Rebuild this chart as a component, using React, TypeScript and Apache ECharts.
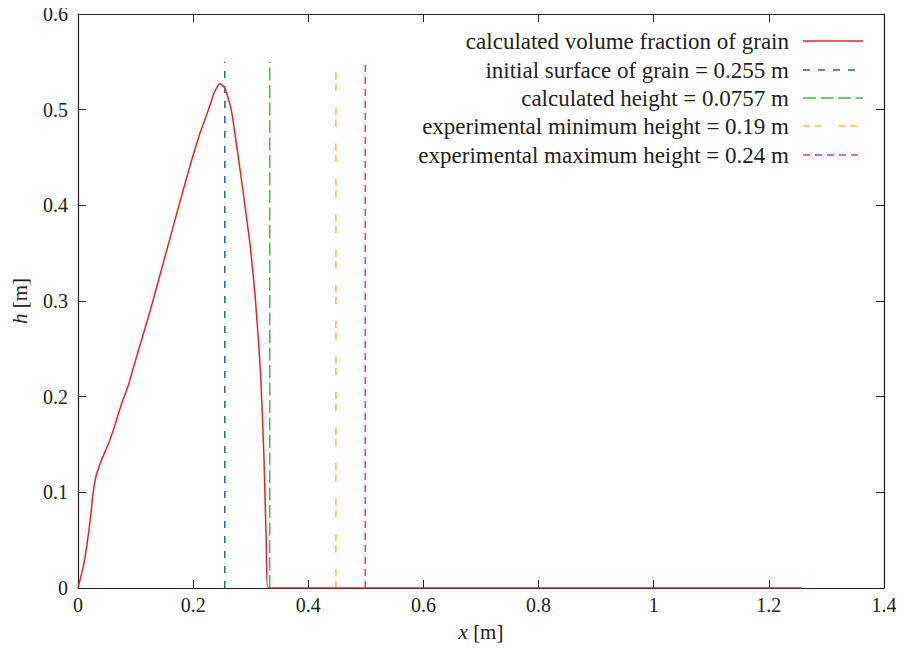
import React, { useEffect, useRef } from "react";
import * as echarts from "echarts";

// Computed volume fraction profile of grain, h [m] against x [m]
const curveX = [
  0, 0.009, 0.016, 0.022, 0.0255, 0.031, 0.041, 0.053, 0.064, 0.076, 0.087,
  0.095, 0.125, 0.155, 0.1876, 0.21, 0.226, 0.236, 0.241, 0.246, 0.25, 0.256,
  0.262, 0.268, 0.284, 0.299, 0.308, 0.317, 0.323, 0.327, 0.33, 1.257,
];
const curveH = [
  0, 0.022, 0.047, 0.075, 0.096, 0.116, 0.134, 0.151, 0.17, 0.193, 0.211,
  0.228, 0.289, 0.355, 0.4265, 0.472, 0.499, 0.517, 0.523, 0.527, 0.526, 0.521,
  0.51, 0.494, 0.4265, 0.3585, 0.303, 0.226, 0.137, 0.047, 0, 0,
];

// Reference heights drawn as vertical markers: [x position, top]
const surfaceLine = [0.255, 0.55];
const calcHeightLine = [0.333, 0.55];
const expMinLine = [0.448, 0.54];
const expMaxLine = [0.499, 0.547];

const legendLabels = [
  "calculated volume fraction of grain",
  "initial surface of grain = 0.255 m",
  "calculated height = 0.0757 m",
  "experimental minimum height = 0.19 m",
  "experimental maximum height = 0.24 m",
];

const xTicks = { min: 0, max: 1.4, interval: 0.2 };
const yTicks = { min: 0, max: 0.6, interval: 0.1 };

const FONT = "'Liberation Serif', serif";
const INK = "#222";
const colors = ["#ec1f26", "#22649f", "#3dba55", "#fbb93a", "#f2289a"];
const dashes: (number[] | null)[] = [
  null,
  [7, 8],
  [13, 4.5],
  [7, 4.5, 7, 17],
  [7, 5],
];

function vertical(line: number[]) {
  return [
    [line[0], 0],
    [line[0], line[1]],
  ];
}

export default function App() {
  const ref = useRef<HTMLDivElement>(null);

  useEffect(() => {
    if (!ref.current) return;
    const chart = echarts.init(ref.current, undefined, { renderer: "svg" });

    const fmt = (v: number) => String(Math.round(v * 10) / 10);

    const baseAxis = {
      axisLine: { show: true, onZero: false, lineStyle: { color: INK, width: 1.2 } },
      axisTick: {
        show: true,
        inside: true,
        length: 8,
        lineStyle: { color: INK, width: 1 },
      },
      splitLine: { show: false },
    };

    const verticals = [surfaceLine, calcHeightLine, expMinLine, expMaxLine];

    const rowY = [41, 70, 98, 126, 155];
    const legendGraphics: any[] = [];
    legendLabels.forEach((label, i) => {
      legendGraphics.push({
        type: "text",
        x: 789,
        y: rowY[i],
        style: {
          text: label,
          fill: INK,
          font: `23px ${FONT}`,
          textAlign: "right",
          textVerticalAlign: "middle",
        },
      });
      legendGraphics.push({
        type: "line",
        shape: { x1: 803, y1: rowY[i], x2: 863, y2: rowY[i] },
        style: {
          stroke: colors[i],
          lineWidth: 1.5,
          lineDash: dashes[i] ?? undefined,
        },
      });
    });

    const nameStyle = {
      color: INK,
      fontSize: 21,
      fontFamily: FONT,
      rich: {
        i: { fontStyle: "italic", fontSize: 21, fontFamily: FONT, color: INK },
      },
    };

    chart.setOption({
      animation: false,
      backgroundColor: "#fff",
      textStyle: { fontFamily: FONT },
      grid: {
        left: 78,
        right: 20,
        top: 14,
        bottom: 60,
        containLabel: false,
        outerBoundsMode: "none",
      },
      xAxis: [
        {
          type: "value",
          position: "bottom",
          ...xTicks,
          ...baseAxis,
          name: "{i|x} [m]",
          nameLocation: "middle",
          nameGap: 33,
          nameTextStyle: nameStyle,
          axisLabel: {
            color: INK,
            fontSize: 20,
            fontFamily: FONT,
            margin: 7,
            formatter: fmt,
          },
        },
        {
          type: "value",
          position: "top",
          ...xTicks,
          ...baseAxis,
          axisLabel: { show: false },
        },
      ],
      yAxis: [
        {
          type: "value",
          position: "left",
          ...yTicks,
          ...baseAxis,
          name: "{i|h} [m]",
          nameLocation: "middle",
          nameGap: 48,
          nameRotate: 90,
          nameTextStyle: nameStyle,
          axisLabel: {
            color: INK,
            fontSize: 20,
            fontFamily: FONT,
            margin: 10,
            formatter: fmt,
          },
        },
        {
          type: "value",
          position: "right",
          ...yTicks,
          ...baseAxis,
          axisLabel: { show: false },
        },
      ],
      series: [
        {
          type: "line",
          name: legendLabels[0],
          data: curveX.map((x, i) => [x, curveH[i]]),
          showSymbol: false,
          smooth: 0.15,
          lineStyle: { color: colors[0], width: 1.5 },
          z: 3,
        },
        ...verticals.map((line, i) => ({
          type: "line",
          name: legendLabels[i + 1],
          data: vertical(line),
          showSymbol: false,
          lineStyle: { color: colors[i + 1], width: 1.5, type: dashes[i + 1] },
          z: 2,
        })),
      ],
      graphic: legendGraphics,
    });

    return () => chart.dispose();
  }, []);

  // The page keeps its default 8px body margin; pull the chart out to the corner.
  return (
    <div
      ref={ref}
      style={{ width: 904, height: 648, marginLeft: -8, marginTop: -8 }}
    />
  );
}
